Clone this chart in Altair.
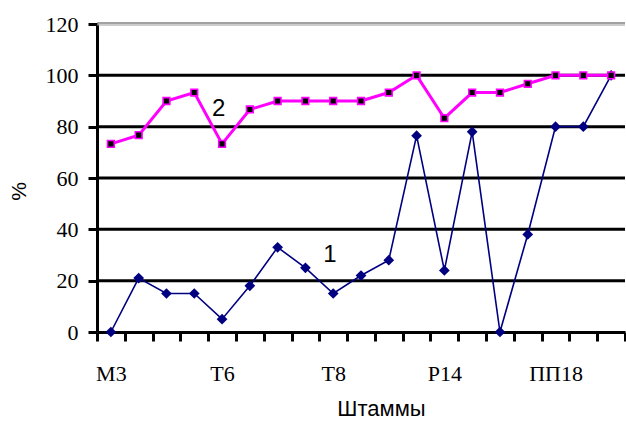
import json
import altair as alt
import pandas as pd

# ---- data ----
n_strains = 19
shown_label_idx = [0, 4, 8, 12, 16]
shown_labels = ["М3", "Т6", "Т8", "Р14", "ПП18"]
series1 = [0, 21, 15, 15, 5, 18, 33, 25, 15, 22, 28, 76.5, 24, 78, 0, 38, 80, 80, 100]
series2 = [73.3, 76.7, 90, 93.3, 73.3, 86.7, 90, 90, 90, 90, 93.3, 100, 83.3, 93.3, 93.3, 96.7, 100, 100, 100]
y_ticks = [0, 20, 40, 60, 80, 100, 120]
grid_values = [20, 40, 60, 80, 100]
top_value = [120]
annot_text = ["1", "2"]
annot_x = [7.88, 3.88]
annot_y = [29.9, 87.0]

NAVY = "#000080"
MAGENTA = "#FF00FF"
SERIF = "Liberation Serif"
SANS = "Liberation Sans"

df1 = pd.DataFrame({"i": list(range(n_strains)), "v": series1})
df2 = pd.DataFrame({"i": list(range(n_strains)), "v": series2})
dfa = pd.DataFrame({"i": annot_x, "v": annot_y, "t": annot_text})
dfgrid = pd.DataFrame({"v": grid_values})
dftop = pd.DataFrame({"v": top_value})

names = [""] * n_strains
for k, lab in zip(shown_label_idx, shown_labels):
    names[k] = lab
label_expr = json.dumps(names, ensure_ascii=False) + "[datum.value]"

xscale = alt.Scale(domain=[-0.5, n_strains - 0.5], nice=False, zero=False)
yscale = alt.Scale(domain=[0, 120], nice=False, zero=True)

boundaries = [k - 0.5 for k in range(n_strains + 1)]

x_tick_axis = alt.Axis(
    orient="bottom", values=boundaries, labels=False, grid=False, title=None,
    tickSize=9, tickWidth=3, tickColor="black",
    domainColor="black", domainWidth=3,
)
x_label_axis = alt.Axis(
    orient="bottom", values=shown_label_idx, labelExpr=label_expr,
    ticks=False, tickSize=0, domain=False, grid=False,
    labelFont=SERIF, labelFontSize=22, labelColor="black",
    labelBaseline="alphabetic", labelPadding=48, labelAlign="center",
    title="Штаммы", titleFont=SANS, titleFontSize=22, titleFontWeight="normal",
    titleColor="black", titleX=284, titleY=83, titleBaseline="alphabetic",
    titleAlign="center",
)
y_axis = alt.Axis(
    values=y_ticks, grid=False,
    tickSize=9, tickWidth=3, tickColor="black",
    domainColor="black", domainWidth=3,
    labelFont=SERIF, labelFontSize=22, labelColor="black", labelPadding=10,
    title="%", titleFont=SANS, titleFontSize=21, titleFontWeight="normal",
    titleColor="black", titleX=-78, titleY=167, titleAlign="center",
    titleBaseline="middle", titleAngle=270,
)

grid = alt.Chart(dfgrid).mark_rule(color="black", strokeWidth=3).encode(
    y=alt.Y("v:Q", scale=yscale, axis=y_axis)
)
top_line = alt.Chart(dftop).mark_rule(color="#444444", strokeWidth=1, yOffset=-1).encode(
    y=alt.Y("v:Q", scale=yscale)
)
top_line2 = alt.Chart(dftop).mark_rule(color="#999999", strokeWidth=1, yOffset=1).encode(
    y=alt.Y("v:Q", scale=yscale)
)

line1 = alt.Chart(df1).mark_line(
    color=NAVY, strokeWidth=1.6,
    point=alt.OverlayMarkDef(shape="diamond", size=115, filled=True, color=NAVY),
).encode(
    x=alt.X("i:Q", scale=xscale, axis=x_tick_axis),
    y=alt.Y("v:Q", scale=yscale),
)

line2 = alt.Chart(df2).mark_line(
    color=MAGENTA, strokeWidth=3,
    point=alt.OverlayMarkDef(shape="square", size=45, filled=True, fill="black",
                             stroke=MAGENTA, strokeWidth=1.6),
).encode(
    x=alt.X("i:Q", scale=xscale, axis=x_label_axis),
    y=alt.Y("v:Q", scale=yscale),
)

annots = alt.Chart(dfa).mark_text(
    font=SANS, fontSize=24, color="black", align="center", baseline="middle"
).encode(
    x=alt.X("i:Q", scale=xscale, axis=None),
    y=alt.Y("v:Q", scale=yscale),
    text="t:N",
)

chart = alt.layer(grid, top_line, top_line2, line1, line2, annots).resolve_axis(
    x="independent"
).properties(
    width=528, height=308,
    autosize=alt.AutoSizeParams(type="none"),
    padding={"left": 97, "top": 24, "right": 1, "bottom": 89},
    background="white",
).configure_view(stroke=None)

chart.save("out.html", embed_options={"renderer": "svg", "actions": False})
